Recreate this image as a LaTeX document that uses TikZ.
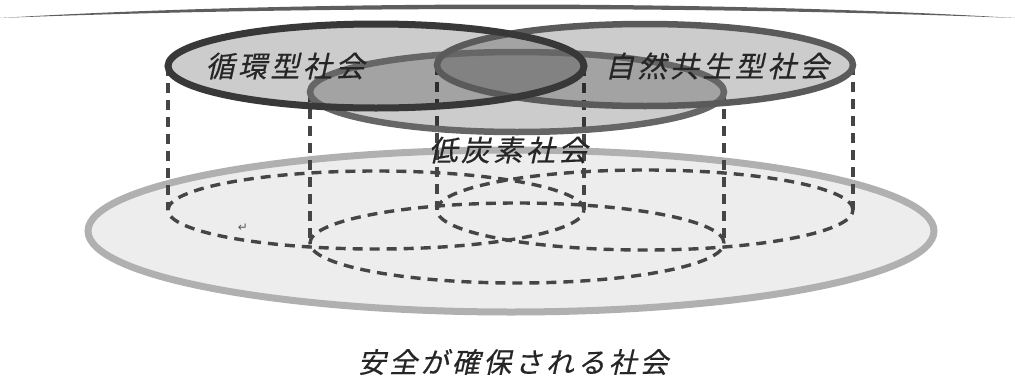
\documentclass[tikz,border=0pt]{standalone}
\usepackage{fontspec}
\newfontfamily\jp[FakeSlant=0.22,LetterSpace=12,FakeBold=0.4]{Noto Sans CJK JP}
\newfontfamily\dejavu{DejaVu Sans}
\definecolor{ringA}{HTML}{383838}
\definecolor{ringB}{HTML}{5A5A5A}
\definecolor{ringC}{HTML}{666666}
\definecolor{dashc}{HTML}{454545}
\definecolor{baseFill}{HTML}{EDEDED}
\definecolor{baseLine}{HTML}{B0B0B0}
\definecolor{arcC}{HTML}{5E5E5E}
\begin{document}
\begin{tikzpicture}[x=1pt,y=-1pt,
  basering/.style={fill=baseFill, draw=baseLine, line width=7pt},
  proj/.style={draw=dashc, line width=3.4pt, dash pattern=on 10pt off 7pt},
  tint/.style={fill=black, fill opacity=0.2},
  lbl/.style={font=\jp\fontsize{29}{29}\selectfont, inner sep=0pt, text=black!85},
  basetxt/.style={font=\jp\fontsize{28}{28}\selectfont, inner sep=0pt, text=black!85}]
\useasboundingbox (0,0) rectangle (1015,378);
% horizon arc
\fill[arcC] (0,18) .. controls (300,0) and (715,0) .. (1015,18)
            .. controls (715,6) and (300,6) .. (0,18) -- cycle;
% base ellipse
\coordinate (base) at (511,231);
\path[basering] (base) ellipse [x radius=423pt, y radius=81pt];
% centres
\coordinate (c1) at (376,66);
\coordinate (c2) at (645,65);
\coordinate (c3) at (517,92);
\coordinate (p1) at (376,210);
\coordinate (p2) at (645,210);
\coordinate (p3) at (517,243);
% projected dashed ellipses
\path[proj] (p1) ellipse [x radius=208pt, y radius=39pt];
\path[proj] (p2) ellipse [x radius=208pt, y radius=40pt];
\path[proj] (p3) ellipse [x radius=207pt, y radius=40pt];
% vertical dashed lines
\coordinate (t1l) at (168,66);  \coordinate (b1l) at (168,210);
\coordinate (t1r) at (584,66);  \coordinate (b1r) at (584,210);
\coordinate (t2l) at (437,65);  \coordinate (b2l) at (437,210);
\coordinate (t2r) at (853,65);  \coordinate (b2r) at (853,210);
\coordinate (t3l) at (310,92);  \coordinate (b3l) at (310,243);
\coordinate (t3r) at (724,92);  \coordinate (b3r) at (724,243);
\draw[proj] (t1l) -- (b1l);
\draw[proj] (t1r) -- (b1r);
\draw[proj] (t2l) -- (b2l);
\draw[proj] (t2r) -- (b2r);
\draw[proj] (t3l) -- (b3l);
\draw[proj] (t3r) -- (b3r);
% top ellipses fills
\path[tint] (c1) ellipse [x radius=208pt, y radius=42pt];
\path[tint] (c2) ellipse [x radius=208pt, y radius=41pt];
\path[tint] (c3) ellipse [x radius=207pt, y radius=40pt];
% borders
\draw[ringC, line width=6.5pt] (c3) ellipse [x radius=207pt, y radius=40pt];
\draw[ringB, line width=6.5pt] (c2) ellipse [x radius=208pt, y radius=41pt];
\draw[ringA, line width=7pt] (c1) ellipse [x radius=208pt, y radius=42pt];
% labels
\node[lbl] (n1) at (285,66) {循環型社会};
\node[lbl] (n2) at (717,66) {自然共生型社会};
\node[lbl] (n3) at (508,150) {低炭素社会};
\node[basetxt] (n4) at (513,362) {安全が確保される社会};
\node[font=\dejavu\fontsize{12}{12}\selectfont, text=black!65, inner sep=0pt] (ret) at (243,228) {↵};
\end{tikzpicture}
\end{document}
